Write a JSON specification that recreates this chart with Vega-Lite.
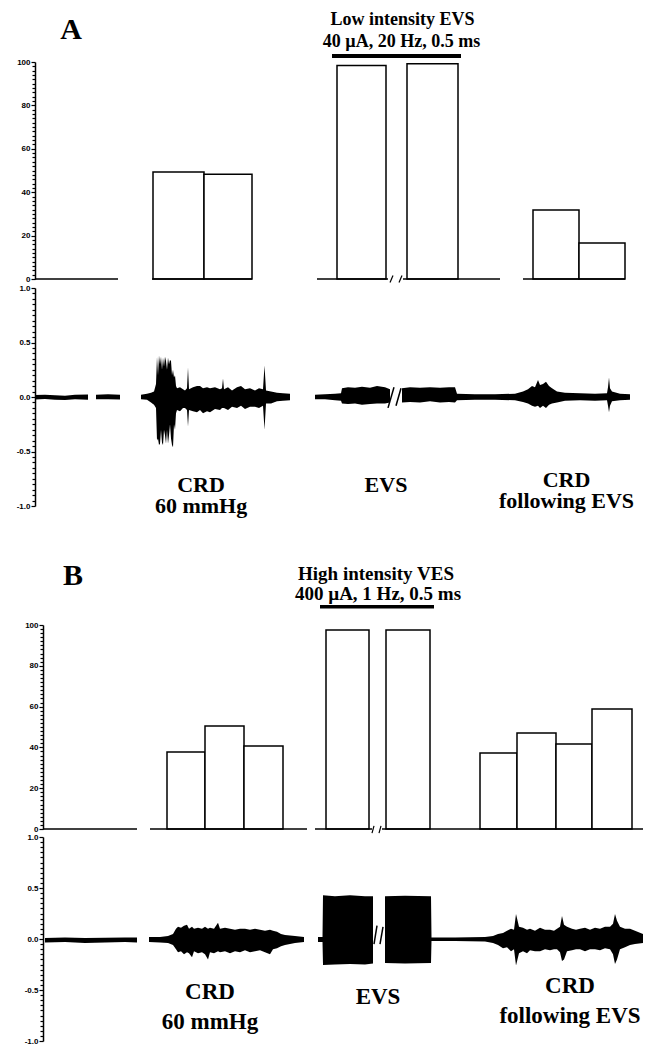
{
  "$schema": "https://vega.github.io/schema/vega-lite/v6.json",
  "width": 610,
  "height": 1047,
  "autosize": {"type": "none"},
  "padding": {"left": 35, "top": 0, "right": 0, "bottom": 0},
  "background": "white",
  "config": {
    "view": {"stroke": null},
    "axis": {"grid": false, "labelFont": "Liberation Sans", "labelFontSize": 8, "labelFontWeight": "bold", "labelColor": "black", "tickColor": "black", "domainColor": "black", "domainWidth": 1.5, "tickWidth": 1.2, "labelPadding": 1, "labelOverlap": false, "labelFlush": false},
    "text": {"font": "Liberation Serif", "fontWeight": "bold", "color": "black"}
  },
  "datasets": {
    "barsA": [
      {"group": "CRD 60 mmHg", "t0": 118, "t1": 169, "value": 49.3},
      {"group": "CRD 60 mmHg", "t0": 169, "t1": 217, "value": 48.3},
      {"group": "EVS", "t0": 302, "t1": 351, "value": 98.4},
      {"group": "EVS", "t0": 372, "t1": 423, "value": 99.2},
      {"group": "CRD following EVS", "t0": 498, "t1": 544, "value": 31.8},
      {"group": "CRD following EVS", "t0": 544, "t1": 590, "value": 16.6}
    ],
    "baseA": [
      {"t0": 0, "t1": 83}, {"t0": 117, "t1": 217}, {"t0": 282, "t1": 353}, {"t0": 368, "t1": 465}, {"t0": 488, "t1": 590}
    ],
    "slashA": [
      {"t0": 355, "v0": -1.6, "t1": 358, "v1": 1.6},
      {"t0": 364, "v0": -1.6, "t1": 367, "v1": 1.6}
    ],
    "stimA": [{"t0": 297, "t1": 426, "v": 102.8}],
    "headA": [
      {"text": "Low intensity EVS", "t": 367.5, "v": 117},
      {"text": "40 µA, 20 Hz, 0.5 ms", "t": 366.5, "v": 107}
    ],
    "letterA": [{"text": "A", "t": 36, "v": 110.6}],
    "traceA": [
      {"seg": "a1", "t": 0, "hi": 0.018, "lo": -0.022},
      {"seg": "a1", "t": 10, "hi": 0.02, "lo": -0.018},
      {"seg": "a1", "t": 20, "hi": 0.015, "lo": -0.025},
      {"seg": "a1", "t": 30, "hi": 0.012, "lo": -0.027},
      {"seg": "a1", "t": 40, "hi": 0.02, "lo": -0.02},
      {"seg": "a1", "t": 53, "hi": 0.022, "lo": -0.025},
      {"seg": "a2", "t": 61, "hi": 0.02, "lo": -0.02},
      {"seg": "a2", "t": 73, "hi": 0.025, "lo": -0.02},
      {"seg": "a2", "t": 85, "hi": 0.02, "lo": -0.022},
      {"seg": "a3", "t": 106, "hi": 0.02, "lo": -0.02},
      {"seg": "a3", "t": 112, "hi": 0.03, "lo": -0.025},
      {"seg": "a3", "t": 116, "hi": 0.04, "lo": -0.05},
      {"seg": "a3", "t": 119, "hi": 0.05, "lo": -0.07},
      {"seg": "a3", "t": 121, "hi": 0.12, "lo": -0.1},
      {"seg": "a3", "t": 122, "hi": 0.37, "lo": -0.4},
      {"seg": "a3", "t": 123, "hi": 0.2, "lo": -0.38},
      {"seg": "a3", "t": 124, "hi": 0.38, "lo": -0.44},
      {"seg": "a3", "t": 125, "hi": 0.3, "lo": -0.43},
      {"seg": "a3", "t": 126, "hi": 0.37, "lo": -0.3},
      {"seg": "a3", "t": 127, "hi": 0.25, "lo": -0.42},
      {"seg": "a3", "t": 128, "hi": 0.36, "lo": -0.44},
      {"seg": "a3", "t": 129, "hi": 0.28, "lo": -0.3},
      {"seg": "a3", "t": 130, "hi": 0.37, "lo": -0.35},
      {"seg": "a3", "t": 131, "hi": 0.33, "lo": -0.43},
      {"seg": "a3", "t": 132, "hi": 0.25, "lo": -0.3},
      {"seg": "a3", "t": 133, "hi": 0.36, "lo": -0.43},
      {"seg": "a3", "t": 134, "hi": 0.3, "lo": -0.35},
      {"seg": "a3", "t": 135, "hi": 0.34, "lo": -0.25},
      {"seg": "a3", "t": 136, "hi": 0.33, "lo": -0.38},
      {"seg": "a3", "t": 137, "hi": 0.2, "lo": -0.44},
      {"seg": "a3", "t": 138, "hi": 0.25, "lo": -0.46},
      {"seg": "a3", "t": 139, "hi": 0.18, "lo": -0.25},
      {"seg": "a3", "t": 140, "hi": 0.2, "lo": -0.3},
      {"seg": "a3", "t": 141, "hi": 0.1, "lo": -0.15},
      {"seg": "a3", "t": 142, "hi": 0.08, "lo": -0.12},
      {"seg": "a3", "t": 145, "hi": 0.09, "lo": -0.13},
      {"seg": "a3", "t": 148, "hi": 0.07, "lo": -0.1},
      {"seg": "a3", "t": 150, "hi": 0.06, "lo": -0.1},
      {"seg": "a3", "t": 152, "hi": 0.08, "lo": -0.12},
      {"seg": "a3", "t": 153, "hi": 0.27, "lo": -0.27},
      {"seg": "a3", "t": 154, "hi": 0.07, "lo": -0.12},
      {"seg": "a3", "t": 158, "hi": 0.09, "lo": -0.13},
      {"seg": "a3", "t": 162, "hi": 0.1, "lo": -0.14},
      {"seg": "a3", "t": 165, "hi": 0.1, "lo": -0.12},
      {"seg": "a3", "t": 168, "hi": 0.08, "lo": -0.15},
      {"seg": "a3", "t": 172, "hi": 0.09, "lo": -0.13},
      {"seg": "a3", "t": 175, "hi": 0.08, "lo": -0.14},
      {"seg": "a3", "t": 180, "hi": 0.09, "lo": -0.11},
      {"seg": "a3", "t": 185, "hi": 0.07, "lo": -0.12},
      {"seg": "a3", "t": 187, "hi": 0.08, "lo": -0.1},
      {"seg": "a3", "t": 188, "hi": 0.17, "lo": -0.1},
      {"seg": "a3", "t": 189, "hi": 0.07, "lo": -0.1},
      {"seg": "a3", "t": 193, "hi": 0.09, "lo": -0.12},
      {"seg": "a3", "t": 197, "hi": 0.06, "lo": -0.09},
      {"seg": "a3", "t": 202, "hi": 0.09, "lo": -0.1},
      {"seg": "a3", "t": 206, "hi": 0.1, "lo": -0.08},
      {"seg": "a3", "t": 210, "hi": 0.07, "lo": -0.11},
      {"seg": "a3", "t": 215, "hi": 0.08, "lo": -0.09},
      {"seg": "a3", "t": 220, "hi": 0.06, "lo": -0.09},
      {"seg": "a3", "t": 224, "hi": 0.08, "lo": -0.1},
      {"seg": "a3", "t": 228, "hi": 0.07, "lo": -0.08},
      {"seg": "a3", "t": 229.5, "hi": 0.29, "lo": -0.3},
      {"seg": "a3", "t": 231, "hi": 0.06, "lo": -0.06},
      {"seg": "a3", "t": 236, "hi": 0.05, "lo": -0.06},
      {"seg": "a3", "t": 242, "hi": 0.04, "lo": -0.04},
      {"seg": "a3", "t": 248, "hi": 0.035, "lo": -0.035},
      {"seg": "a3", "t": 255, "hi": 0.03, "lo": -0.03},
      {"seg": "a4", "t": 280, "hi": 0.02, "lo": -0.02},
      {"seg": "a4", "t": 290, "hi": 0.025, "lo": -0.02},
      {"seg": "a4", "t": 300, "hi": 0.03, "lo": -0.03},
      {"seg": "a4", "t": 306, "hi": 0.035, "lo": -0.035},
      {"seg": "a4", "t": 307, "hi": 0.08, "lo": -0.06},
      {"seg": "a4", "t": 313, "hi": 0.09, "lo": -0.065},
      {"seg": "a4", "t": 320, "hi": 0.085, "lo": -0.06},
      {"seg": "a4", "t": 327, "hi": 0.095, "lo": -0.07},
      {"seg": "a4", "t": 335, "hi": 0.085, "lo": -0.065},
      {"seg": "a4", "t": 342, "hi": 0.1, "lo": -0.06},
      {"seg": "a4", "t": 350, "hi": 0.09, "lo": -0.06},
      {"seg": "a4", "t": 355, "hi": 0.07, "lo": -0.05},
      {"seg": "a5", "t": 367, "hi": 0.08, "lo": -0.05},
      {"seg": "a5", "t": 375, "hi": 0.09, "lo": -0.045},
      {"seg": "a5", "t": 385, "hi": 0.085, "lo": -0.05},
      {"seg": "a5", "t": 395, "hi": 0.09, "lo": -0.04},
      {"seg": "a5", "t": 405, "hi": 0.085, "lo": -0.05},
      {"seg": "a5", "t": 414, "hi": 0.09, "lo": -0.045},
      {"seg": "a5", "t": 420, "hi": 0.09, "lo": -0.05},
      {"seg": "a5", "t": 422, "hi": 0.03, "lo": -0.03},
      {"seg": "a5", "t": 440, "hi": 0.025, "lo": -0.025},
      {"seg": "a5", "t": 460, "hi": 0.025, "lo": -0.025},
      {"seg": "a5", "t": 480, "hi": 0.03, "lo": -0.03},
      {"seg": "a5", "t": 488, "hi": 0.05, "lo": -0.045},
      {"seg": "a5", "t": 493, "hi": 0.07, "lo": -0.06},
      {"seg": "a5", "t": 497, "hi": 0.1, "lo": -0.08},
      {"seg": "a5", "t": 500, "hi": 0.09, "lo": -0.09},
      {"seg": "a5", "t": 503, "hi": 0.155, "lo": -0.08},
      {"seg": "a5", "t": 505, "hi": 0.11, "lo": -0.1},
      {"seg": "a5", "t": 508, "hi": 0.12, "lo": -0.08},
      {"seg": "a5", "t": 511, "hi": 0.14, "lo": -0.1},
      {"seg": "a5", "t": 514, "hi": 0.1, "lo": -0.07},
      {"seg": "a5", "t": 517, "hi": 0.08, "lo": -0.06},
      {"seg": "a5", "t": 522, "hi": 0.05, "lo": -0.05},
      {"seg": "a5", "t": 530, "hi": 0.04, "lo": -0.035},
      {"seg": "a5", "t": 545, "hi": 0.035, "lo": -0.03},
      {"seg": "a5", "t": 560, "hi": 0.03, "lo": -0.035},
      {"seg": "a5", "t": 572, "hi": 0.035, "lo": -0.03},
      {"seg": "a5", "t": 573, "hi": 0.09, "lo": -0.08},
      {"seg": "a5", "t": 574, "hi": 0.18, "lo": -0.14},
      {"seg": "a5", "t": 575, "hi": 0.08, "lo": -0.08},
      {"seg": "a5", "t": 577, "hi": 0.05, "lo": -0.04},
      {"seg": "a5", "t": 585, "hi": 0.03, "lo": -0.03},
      {"seg": "a5", "t": 595, "hi": 0.025, "lo": -0.025}
    ],
    "slashTA": [
      {"t0": 353, "v0": -0.1, "t1": 359, "v1": 0.09},
      {"t0": 361, "v0": -0.08, "t1": 366, "v1": 0.08}
    ],
    "labelsA": [
      {"text": "CRD\n60 mmHg", "t": 166, "v": -0.875},
      {"text": "EVS", "t": 351, "v": -0.87},
      {"text": "CRD\nfollowing EVS", "t": 531.5, "v": -0.83}
    ],
    "barsB": [
      {"group": "CRD 60 mmHg", "t0": 132, "t1": 170, "value": 37.7},
      {"group": "CRD 60 mmHg", "t0": 170, "t1": 209, "value": 50.5},
      {"group": "CRD 60 mmHg", "t0": 209, "t1": 248, "value": 40.7},
      {"group": "EVS", "t0": 291, "t1": 334, "value": 97.5},
      {"group": "EVS", "t0": 351, "t1": 395, "value": 97.5},
      {"group": "CRD following EVS", "t0": 445, "t1": 482, "value": 37.2},
      {"group": "CRD following EVS", "t0": 482, "t1": 521, "value": 47},
      {"group": "CRD following EVS", "t0": 521, "t1": 557, "value": 41.7},
      {"group": "CRD following EVS", "t0": 557, "t1": 597, "value": 58.8}
    ],
    "baseB": [
      {"t0": 8, "t1": 102}, {"t0": 115, "t1": 272}, {"t0": 280, "t1": 337}, {"t0": 347, "t1": 608}
    ],
    "slashB": [
      {"t0": 337, "v0": -2, "t1": 339, "v1": 1.5},
      {"t0": 344, "v0": -2, "t1": 346, "v1": 1.5}
    ],
    "stimB": [{"t0": 285, "t1": 399, "v": 109}],
    "headB": [
      {"text": "High intensity VES", "t": 341, "v": 122},
      {"text": "400 µA, 1 Hz, 0.5 ms", "t": 343, "v": 112.3}
    ],
    "letterB": [{"text": "B", "t": 38, "v": 119.6}],
    "traceB": [
      {"seg": "b1", "t": 10, "hi": 0.01, "lo": -0.035},
      {"seg": "b1", "t": 30, "hi": 0.015, "lo": -0.03},
      {"seg": "b1", "t": 50, "hi": 0.01, "lo": -0.04},
      {"seg": "b1", "t": 70, "hi": 0.012, "lo": -0.035},
      {"seg": "b1", "t": 90, "hi": 0.015, "lo": -0.03},
      {"seg": "b1", "t": 102, "hi": 0.015, "lo": -0.035},
      {"seg": "b2", "t": 114, "hi": 0.02, "lo": -0.03},
      {"seg": "b2", "t": 125, "hi": 0.02, "lo": -0.035},
      {"seg": "b2", "t": 133, "hi": 0.03, "lo": -0.04},
      {"seg": "b2", "t": 138, "hi": 0.05, "lo": -0.06},
      {"seg": "b2", "t": 141, "hi": 0.1, "lo": -0.1},
      {"seg": "b2", "t": 143, "hi": 0.12, "lo": -0.13},
      {"seg": "b2", "t": 146, "hi": 0.11, "lo": -0.12},
      {"seg": "b2", "t": 149, "hi": 0.13, "lo": -0.15},
      {"seg": "b2", "t": 152, "hi": 0.14, "lo": -0.13},
      {"seg": "b2", "t": 154, "hi": 0.1, "lo": -0.14},
      {"seg": "b2", "t": 157, "hi": 0.12, "lo": -0.18},
      {"seg": "b2", "t": 159, "hi": 0.1, "lo": -0.12},
      {"seg": "b2", "t": 163, "hi": 0.11, "lo": -0.14},
      {"seg": "b2", "t": 167, "hi": 0.1, "lo": -0.13},
      {"seg": "b2", "t": 170, "hi": 0.12, "lo": -0.15},
      {"seg": "b2", "t": 173, "hi": 0.1, "lo": -0.2},
      {"seg": "b2", "t": 175, "hi": 0.11, "lo": -0.13},
      {"seg": "b2", "t": 179, "hi": 0.1, "lo": -0.14},
      {"seg": "b2", "t": 183, "hi": 0.16, "lo": -0.12},
      {"seg": "b2", "t": 185, "hi": 0.1, "lo": -0.13},
      {"seg": "b2", "t": 190, "hi": 0.11, "lo": -0.12},
      {"seg": "b2", "t": 195, "hi": 0.1, "lo": -0.14},
      {"seg": "b2", "t": 200, "hi": 0.09, "lo": -0.12},
      {"seg": "b2", "t": 205, "hi": 0.1, "lo": -0.13},
      {"seg": "b2", "t": 210, "hi": 0.1, "lo": -0.11},
      {"seg": "b2", "t": 215, "hi": 0.09, "lo": -0.13},
      {"seg": "b2", "t": 220, "hi": 0.1, "lo": -0.12},
      {"seg": "b2", "t": 225, "hi": 0.09, "lo": -0.11},
      {"seg": "b2", "t": 230, "hi": 0.08, "lo": -0.13},
      {"seg": "b2", "t": 235, "hi": 0.09, "lo": -0.15},
      {"seg": "b2", "t": 238, "hi": 0.08, "lo": -0.1},
      {"seg": "b2", "t": 242, "hi": 0.07, "lo": -0.09},
      {"seg": "b2", "t": 246, "hi": 0.05, "lo": -0.07},
      {"seg": "b2", "t": 250, "hi": 0.04, "lo": -0.06},
      {"seg": "b2", "t": 255, "hi": 0.035, "lo": -0.05},
      {"seg": "b2", "t": 260, "hi": 0.03, "lo": -0.04},
      {"seg": "b2", "t": 269, "hi": 0.02, "lo": -0.03},
      {"seg": "b3", "t": 283, "hi": 0.02, "lo": -0.03},
      {"seg": "b3", "t": 287.5, "hi": 0.02, "lo": -0.03},
      {"seg": "b3", "t": 288, "hi": 0.43, "lo": -0.255},
      {"seg": "b3", "t": 300, "hi": 0.42, "lo": -0.25},
      {"seg": "b3", "t": 315, "hi": 0.43, "lo": -0.245},
      {"seg": "b3", "t": 330, "hi": 0.42, "lo": -0.25},
      {"seg": "b3", "t": 338, "hi": 0.42, "lo": -0.24},
      {"seg": "b4", "t": 350, "hi": 0.42, "lo": -0.235},
      {"seg": "b4", "t": 370, "hi": 0.425, "lo": -0.24},
      {"seg": "b4", "t": 396, "hi": 0.42, "lo": -0.235},
      {"seg": "b4", "t": 396.5, "hi": 0.015, "lo": -0.02},
      {"seg": "b4", "t": 420, "hi": 0.015, "lo": -0.02},
      {"seg": "b4", "t": 450, "hi": 0.02, "lo": -0.025},
      {"seg": "b4", "t": 458, "hi": 0.03, "lo": -0.04},
      {"seg": "b4", "t": 463, "hi": 0.05, "lo": -0.06},
      {"seg": "b4", "t": 468, "hi": 0.06, "lo": -0.09},
      {"seg": "b4", "t": 472, "hi": 0.08, "lo": -0.08},
      {"seg": "b4", "t": 476, "hi": 0.1, "lo": -0.12},
      {"seg": "b4", "t": 479, "hi": 0.09, "lo": -0.1},
      {"seg": "b4", "t": 481, "hi": 0.245, "lo": -0.26},
      {"seg": "b4", "t": 484, "hi": 0.12, "lo": -0.14},
      {"seg": "b4", "t": 488, "hi": 0.11, "lo": -0.12},
      {"seg": "b4", "t": 492, "hi": 0.09, "lo": -0.14},
      {"seg": "b4", "t": 495, "hi": 0.1, "lo": -0.11},
      {"seg": "b4", "t": 500, "hi": 0.08, "lo": -0.12},
      {"seg": "b4", "t": 505, "hi": 0.11, "lo": -0.12},
      {"seg": "b4", "t": 510, "hi": 0.09, "lo": -0.1},
      {"seg": "b4", "t": 515, "hi": 0.09, "lo": -0.11},
      {"seg": "b4", "t": 519, "hi": 0.08, "lo": -0.1},
      {"seg": "b4", "t": 522, "hi": 0.1, "lo": -0.1},
      {"seg": "b4", "t": 525, "hi": 0.12, "lo": -0.13},
      {"seg": "b4", "t": 527, "hi": 0.225, "lo": -0.215},
      {"seg": "b4", "t": 529, "hi": 0.14, "lo": -0.2},
      {"seg": "b4", "t": 532, "hi": 0.12, "lo": -0.12},
      {"seg": "b4", "t": 537, "hi": 0.1, "lo": -0.11},
      {"seg": "b4", "t": 541, "hi": 0.09, "lo": -0.1},
      {"seg": "b4", "t": 545, "hi": 0.1, "lo": -0.1},
      {"seg": "b4", "t": 550, "hi": 0.11, "lo": -0.12},
      {"seg": "b4", "t": 555, "hi": 0.09, "lo": -0.1},
      {"seg": "b4", "t": 560, "hi": 0.11, "lo": -0.1},
      {"seg": "b4", "t": 565, "hi": 0.1, "lo": -0.11},
      {"seg": "b4", "t": 570, "hi": 0.12, "lo": -0.09},
      {"seg": "b4", "t": 575, "hi": 0.12, "lo": -0.1},
      {"seg": "b4", "t": 578, "hi": 0.15, "lo": -0.15},
      {"seg": "b4", "t": 580, "hi": 0.245, "lo": -0.245},
      {"seg": "b4", "t": 582, "hi": 0.18, "lo": -0.2},
      {"seg": "b4", "t": 585, "hi": 0.12, "lo": -0.1},
      {"seg": "b4", "t": 590, "hi": 0.1, "lo": -0.08},
      {"seg": "b4", "t": 595, "hi": 0.1, "lo": -0.06},
      {"seg": "b4", "t": 600, "hi": 0.08, "lo": -0.05},
      {"seg": "b4", "t": 608, "hi": 0.05, "lo": -0.04}
    ],
    "slashTB": [
      {"t0": 339, "v0": -0.05, "t1": 342, "v1": 0.13},
      {"t0": 345, "v0": -0.05, "t1": 348, "v1": 0.12}
    ],
    "labelsB": [
      {"text": "CRD\n60 mmHg", "t": 175, "v": -0.59},
      {"text": "EVS", "t": 343, "v": -0.64},
      {"text": "CRD\nfollowing EVS", "t": 535, "v": -0.53}
    ]
  },
  "layer": [
    {
      "data": {"name": "barsA"},
      "mark": {"type": "rect", "fill": "white", "stroke": "black", "strokeWidth": 1.5},
      "encoding": {
        "x": {"field": "t0", "type": "quantitative", "scale": {"domain": [0, 610], "nice": false, "zero": false}, "axis": null},
        "x2": {"field": "t1"},
        "y": {"field": "value", "type": "quantitative", "scale": {"domain": [0, 100], "range": [279, 62], "nice": false},
          "axis": {"orient": "left", "title": null, "values": [0, 20, 40, 60, 80, 100], "tickSize": 4}},
        "y2": {"datum": 0}
      }
    },
    {
      "data": {"name": "baseA"},
      "mark": {"type": "rule", "strokeWidth": 1.5, "color": "black"},
      "encoding": {
        "x": {"field": "t0", "type": "quantitative", "axis": null},
        "x2": {"field": "t1"},
        "y": {"datum": 0, "type": "quantitative", "scale": {"domain": [0, 100], "range": [279, 62], "nice": false},
          "axis": {"orient": "left", "title": null, "values": [2,4,6,8,10,12,14,16,18,22,24,26,28,30,32,34,36,38,42,44,46,48,50,52,54,56,58,62,64,66,68,70,72,74,76,78,82,84,86,88,90,92,94,96,98], "labels": false, "domain": false, "tickSize": 3}}
      }
    },
    {
      "layer": [
        {
          "data": {"name": "slashA"},
          "mark": {"type": "rule", "strokeWidth": 1.2, "color": "black"},
          "encoding": {
            "x": {"field": "t0", "type": "quantitative", "axis": null},
            "x2": {"field": "t1"},
            "y": {"field": "v0", "type": "quantitative", "scale": {"domain": [0, 100], "range": [279, 62], "nice": false}, "axis": null},
            "y2": {"field": "v1"}
          }
        },
        {
          "data": {"name": "stimA"},
          "mark": {"type": "rule", "strokeWidth": 4, "color": "black"},
          "encoding": {
            "x": {"field": "t0", "type": "quantitative", "axis": null},
            "x2": {"field": "t1"},
            "y": {"field": "v", "type": "quantitative", "axis": null}
          }
        },
        {
          "data": {"name": "headA"},
          "mark": {"type": "text", "fontSize": 18, "align": "center", "baseline": "alphabetic"},
          "encoding": {
            "x": {"field": "t", "type": "quantitative", "axis": null},
            "y": {"field": "v", "type": "quantitative", "axis": null},
            "text": {"field": "text"}
          }
        },
        {
          "data": {"name": "letterA"},
          "mark": {"type": "text", "fontSize": 30, "align": "center", "baseline": "alphabetic"},
          "encoding": {
            "x": {"field": "t", "type": "quantitative", "axis": null},
            "y": {"field": "v", "type": "quantitative", "axis": null},
            "text": {"field": "text"}
          }
        }
      ]
    },
    {
      "data": {"name": "traceA"},
      "mark": {"type": "area", "color": "black", "interpolate": "linear"},
      "encoding": {
        "x": {"field": "t", "type": "quantitative", "axis": null},
        "y": {"field": "hi", "type": "quantitative", "scale": {"domain": [-1, 1], "range": [506, 288], "nice": false, "zero": false},
          "axis": {"orient": "left", "title": null, "values": [-1, -0.5, 0, 0.5, 1], "tickSize": 4, "labelExpr": "replace(format(datum.value, '.1f'), '\u2212', '-')"}},
        "y2": {"field": "lo"},
        "detail": {"field": "seg"}
      }
    },
    {
      "data": {"name": "slashTA"},
      "mark": {"type": "rule", "strokeWidth": 1.5, "color": "black"},
      "encoding": {
        "x": {"field": "t0", "type": "quantitative", "axis": null},
        "x2": {"field": "t1"},
        "y": {"field": "v0", "type": "quantitative", "scale": {"domain": [-1, 1], "range": [506, 288], "nice": false, "zero": false},
          "axis": {"orient": "left", "title": null, "values": [-0.95,-0.9,-0.85,-0.8,-0.75,-0.7,-0.65,-0.6,-0.55,-0.45,-0.4,-0.35,-0.3,-0.25,-0.2,-0.15,-0.1,-0.05,0.05,0.1,0.15,0.2,0.25,0.3,0.35,0.4,0.45,0.55,0.6,0.65,0.7,0.75,0.8,0.85,0.9,0.95], "labels": false, "domain": false, "tickSize": 3}},
        "y2": {"field": "v1"}
      }
    },
    {
      "data": {"name": "labelsA"},
      "mark": {"type": "text", "fontSize": 22, "align": "center", "baseline": "alphabetic", "lineBreak": "\n", "lineHeight": 20.5},
      "encoding": {
        "x": {"field": "t", "type": "quantitative", "axis": null},
        "y": {"field": "v", "type": "quantitative", "scale": {"domain": [-1, 1], "range": [506, 288], "nice": false, "zero": false}, "axis": null},
        "text": {"field": "text"}
      }
    },
    {
      "data": {"name": "barsB"},
      "mark": {"type": "rect", "fill": "white", "stroke": "black", "strokeWidth": 1.5},
      "encoding": {
        "x": {"field": "t0", "type": "quantitative", "axis": null},
        "x2": {"field": "t1"},
        "y": {"field": "value", "type": "quantitative", "scale": {"domain": [0, 100], "range": [829, 625], "nice": false},
          "axis": {"orient": "left", "title": null, "offset": -8, "values": [0, 20, 40, 60, 80, 100], "tickSize": 4}},
        "y2": {"datum": 0}
      }
    },
    {
      "data": {"name": "baseB"},
      "mark": {"type": "rule", "strokeWidth": 1.5, "color": "black"},
      "encoding": {
        "x": {"field": "t0", "type": "quantitative", "axis": null},
        "x2": {"field": "t1"},
        "y": {"datum": 0, "type": "quantitative", "scale": {"domain": [0, 100], "range": [829, 625], "nice": false},
          "axis": {"orient": "left", "title": null, "offset": -8, "values": [2,4,6,8,10,12,14,16,18,22,24,26,28,30,32,34,36,38,42,44,46,48,50,52,54,56,58,62,64,66,68,70,72,74,76,78,82,84,86,88,90,92,94,96,98], "labels": false, "domain": false, "tickSize": 3}}
      }
    },
    {
      "layer": [
        {
          "data": {"name": "slashB"},
          "mark": {"type": "rule", "strokeWidth": 1.2, "color": "black"},
          "encoding": {
            "x": {"field": "t0", "type": "quantitative", "axis": null},
            "x2": {"field": "t1"},
            "y": {"field": "v0", "type": "quantitative", "scale": {"domain": [0, 100], "range": [829, 625], "nice": false}, "axis": null},
            "y2": {"field": "v1"}
          }
        },
        {
          "data": {"name": "stimB"},
          "mark": {"type": "rule", "strokeWidth": 3.5, "color": "black"},
          "encoding": {
            "x": {"field": "t0", "type": "quantitative", "axis": null},
            "x2": {"field": "t1"},
            "y": {"field": "v", "type": "quantitative", "axis": null}
          }
        },
        {
          "data": {"name": "headB"},
          "mark": {"type": "text", "fontSize": 19, "align": "center", "baseline": "alphabetic"},
          "encoding": {
            "x": {"field": "t", "type": "quantitative", "axis": null},
            "y": {"field": "v", "type": "quantitative", "axis": null},
            "text": {"field": "text"}
          }
        },
        {
          "data": {"name": "letterB"},
          "mark": {"type": "text", "fontSize": 30, "align": "center", "baseline": "alphabetic"},
          "encoding": {
            "x": {"field": "t", "type": "quantitative", "axis": null},
            "y": {"field": "v", "type": "quantitative", "axis": null},
            "text": {"field": "text"}
          }
        }
      ]
    },
    {
      "data": {"name": "traceB"},
      "mark": {"type": "area", "color": "black", "interpolate": "linear"},
      "encoding": {
        "x": {"field": "t", "type": "quantitative", "axis": null},
        "y": {"field": "hi", "type": "quantitative", "scale": {"domain": [-1, 1], "range": [1041, 837], "nice": false, "zero": false},
          "axis": {"orient": "left", "title": null, "offset": -8, "values": [-1, -0.5, 0, 0.5, 1], "tickSize": 4, "labelExpr": "replace(format(datum.value, '.1f'), '\u2212', '-')"}},
        "y2": {"field": "lo"},
        "detail": {"field": "seg"}
      }
    },
    {
      "data": {"name": "slashTB"},
      "mark": {"type": "rule", "strokeWidth": 1.5, "color": "black"},
      "encoding": {
        "x": {"field": "t0", "type": "quantitative", "axis": null},
        "x2": {"field": "t1"},
        "y": {"field": "v0", "type": "quantitative", "scale": {"domain": [-1, 1], "range": [1041, 837], "nice": false, "zero": false},
          "axis": {"orient": "left", "title": null, "offset": -8, "values": [-0.95,-0.9,-0.85,-0.8,-0.75,-0.7,-0.65,-0.6,-0.55,-0.45,-0.4,-0.35,-0.3,-0.25,-0.2,-0.15,-0.1,-0.05,0.05,0.1,0.15,0.2,0.25,0.3,0.35,0.4,0.45,0.55,0.6,0.65,0.7,0.75,0.8,0.85,0.9,0.95], "labels": false, "domain": false, "tickSize": 3}},
        "y2": {"field": "v1"}
      }
    },
    {
      "data": {"name": "labelsB"},
      "mark": {"type": "text", "fontSize": 23, "align": "center", "baseline": "alphabetic", "lineBreak": "\n", "lineHeight": 29.5},
      "encoding": {
        "x": {"field": "t", "type": "quantitative", "axis": null},
        "y": {"field": "v", "type": "quantitative", "scale": {"domain": [-1, 1], "range": [1041, 837], "nice": false, "zero": false}, "axis": null},
        "text": {"field": "text"}
      }
    }
  ],
  "resolve": {"scale": {"y": "independent"}, "axis": {"y": "independent"}}
}
